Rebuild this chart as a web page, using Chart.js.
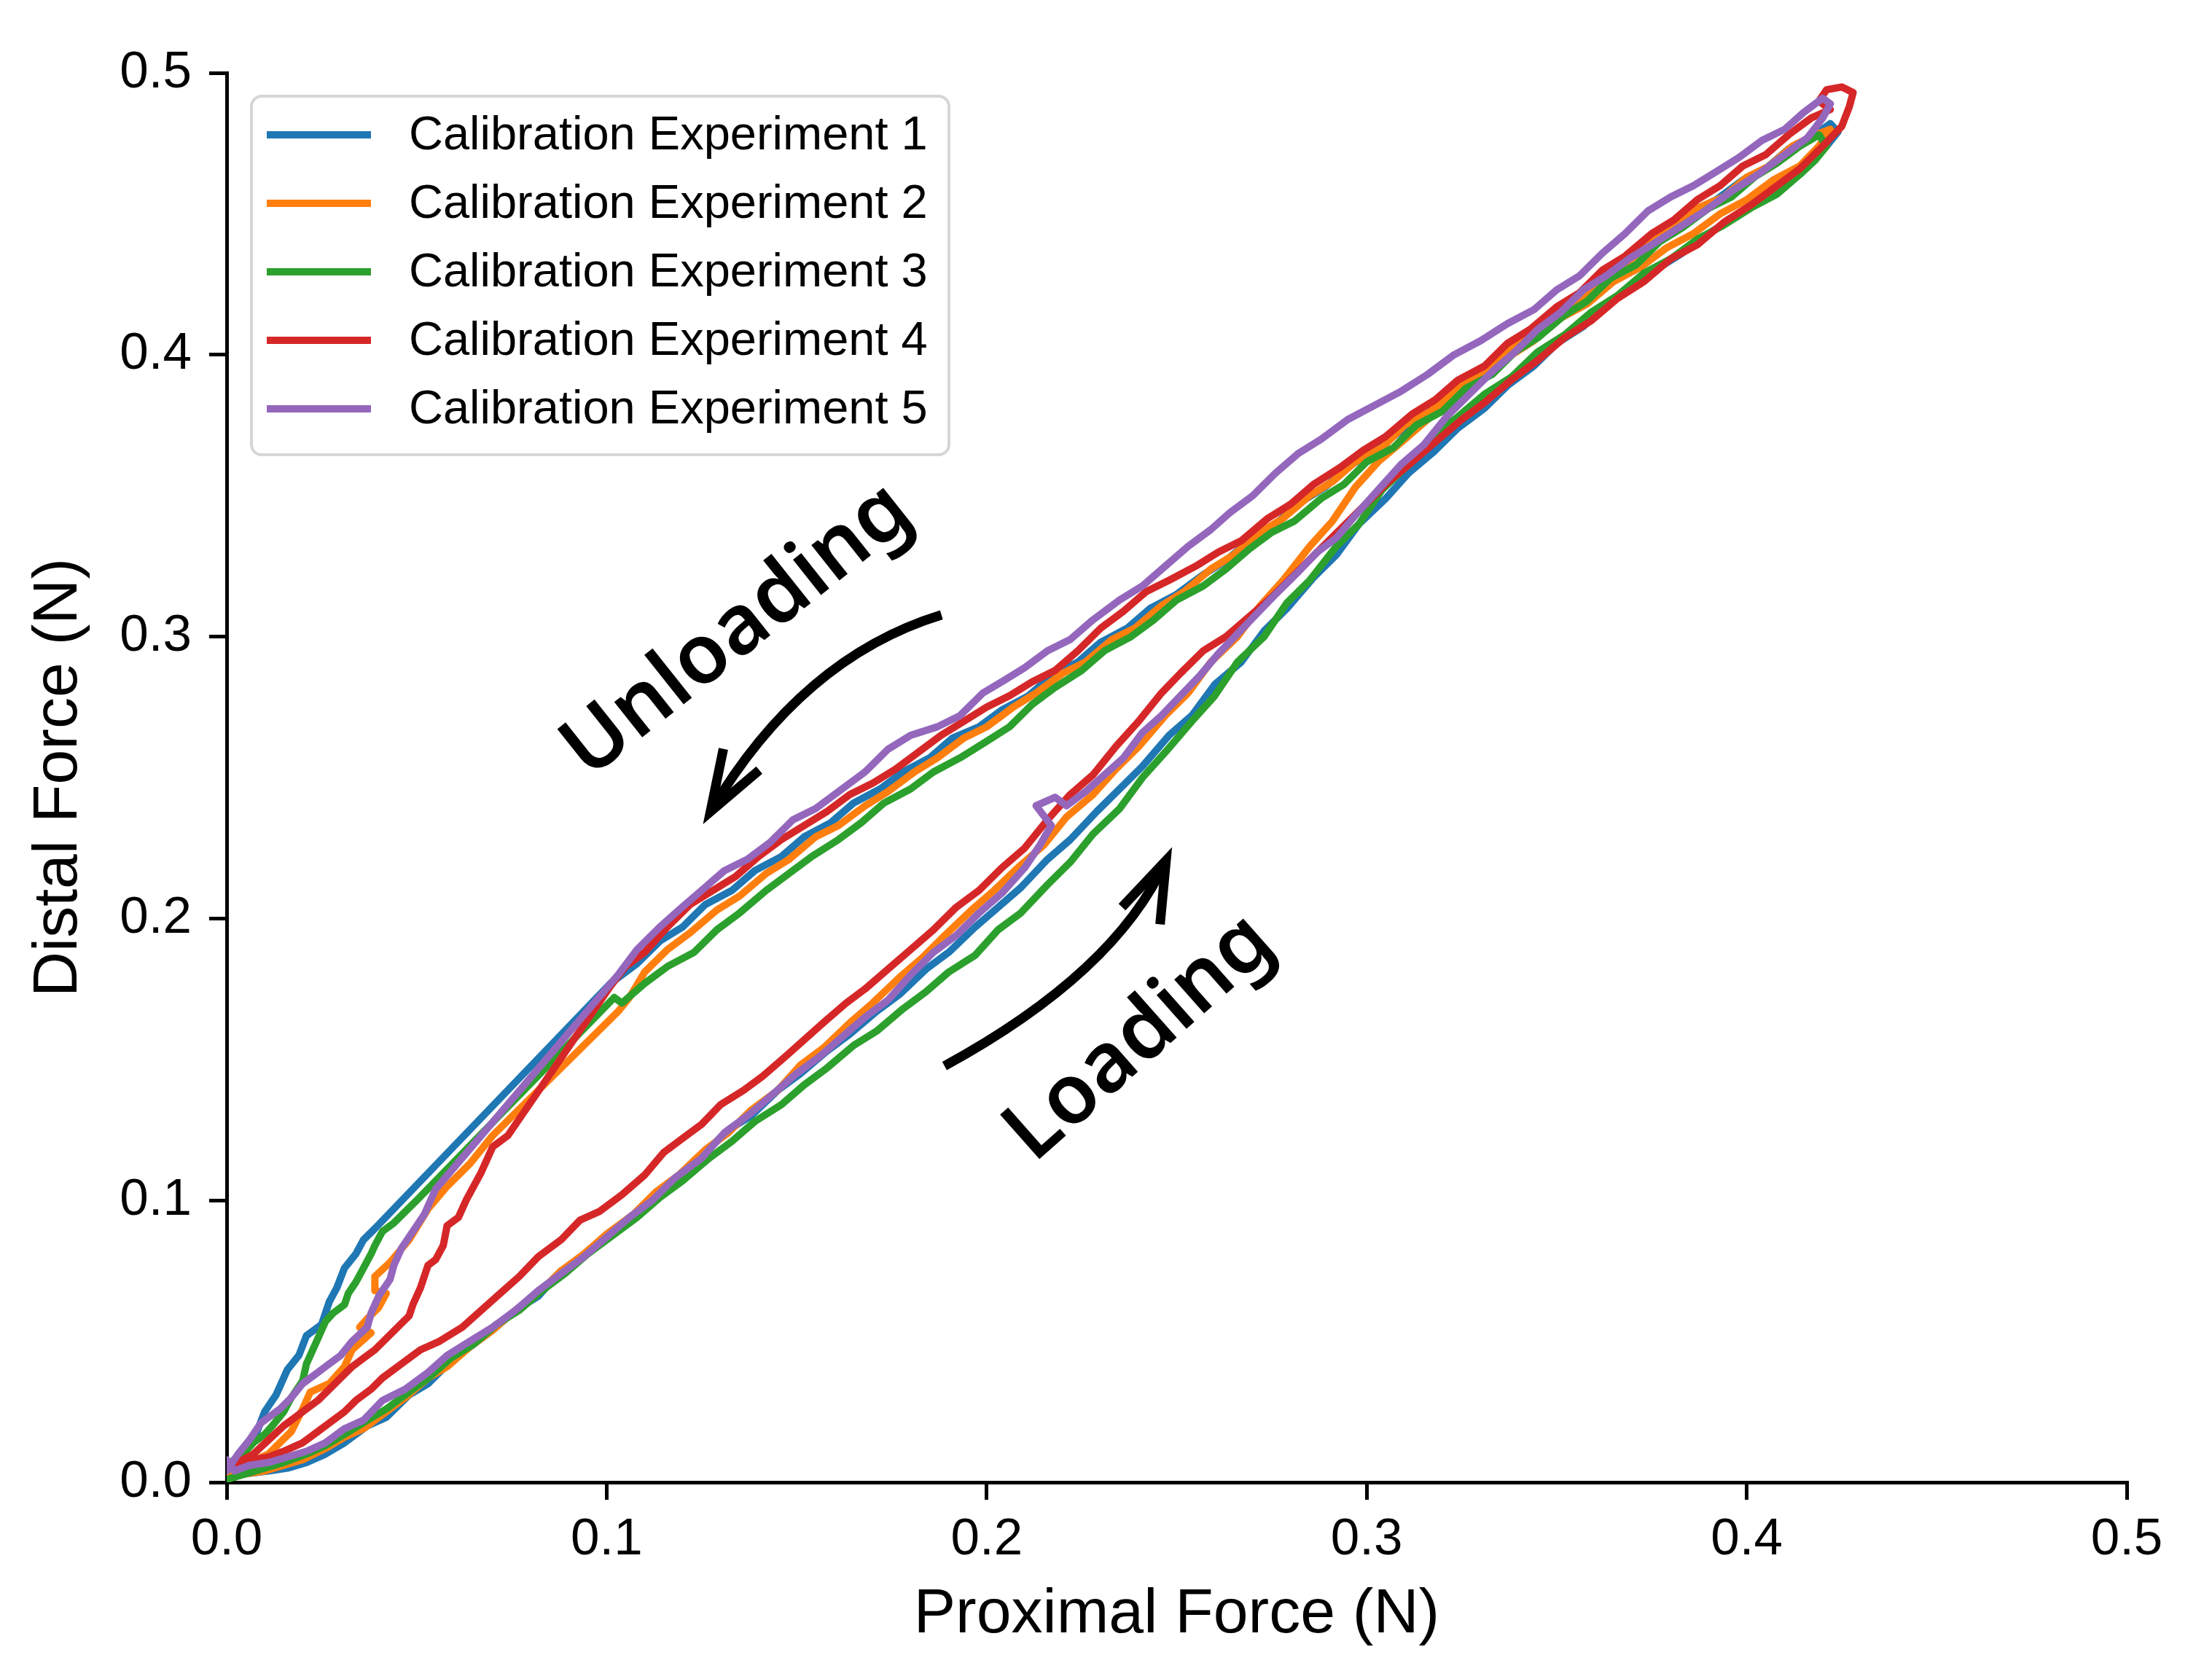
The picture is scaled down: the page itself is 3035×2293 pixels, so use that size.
<!DOCTYPE html>
<html>
<head>
<meta charset="utf-8">
<title>Calibration loops</title>
<script src="https://cdn.jsdelivr.net/npm/chart.js@4.4.1/dist/chart.umd.min.js"></script>
<style>
  html, body { margin: 0; padding: 0; background: #fff; }
  canvas { display: block; }
</style>
</head>
<body>
<canvas id="chart" width="3035" height="2293"></canvas>
<script>
// legend labels and colours (matplotlib tab10)
const expLabels = ['Calibration Experiment 1', 'Calibration Experiment 2', 'Calibration Experiment 3',
                   'Calibration Experiment 4', 'Calibration Experiment 5']
const expColors = ['#1f77b4', '#ff7f0e', '#2ca02c', '#d62728', '#9467bd']
const tickValues = [0, 0.1, 0.2, 0.3, 0.4, 0.5]

// [proximal, distal] pairs; loading goes up, unloading comes back down
const exp1Load = [[0.000,0.004],[0.005,0.003],[0.011,0.004],[0.016,0.005],[0.021,0.007],[0.026,0.010],[0.031,0.014],[0.037,0.020],[0.042,0.023],[0.048,0.031],[0.053,0.035],[0.059,0.043],[0.064,0.048],[0.070,0.054],[0.076,0.061],[0.082,0.066],[0.088,0.075],[0.094,0.080],[0.101,0.089],[0.107,0.094],[0.113,0.101],[0.119,0.108],[0.126,0.117],[0.132,0.125],[0.138,0.130],[0.145,0.139],[0.151,0.145],[0.158,0.153],[0.164,0.159],[0.171,0.167],[0.177,0.173],[0.184,0.182],[0.190,0.188],[0.197,0.197],[0.203,0.204],[0.209,0.211],[0.216,0.221],[0.222,0.228],[0.229,0.238],[0.235,0.246],[0.241,0.254],[0.248,0.265],[0.254,0.272],[0.260,0.283],[0.267,0.291],[0.273,0.302],[0.279,0.310],[0.286,0.321],[0.292,0.329],[0.298,0.340],[0.305,0.349],[0.311,0.358],[0.318,0.366],[0.324,0.374],[0.331,0.381],[0.337,0.389],[0.344,0.396],[0.350,0.404],[0.357,0.410],[0.363,0.418],[0.370,0.424],[0.377,0.431],[0.383,0.436],[0.390,0.443],[0.397,0.449],[0.403,0.455],[0.410,0.461],[0.416,0.467],[0.421,0.474],[0.424,0.479]]
const exp1Unload = [[0.424,0.479],[0.422,0.482],[0.417,0.477],[0.411,0.473],[0.405,0.466],[0.399,0.462],[0.392,0.455],[0.386,0.451],[0.380,0.444],[0.373,0.439],[0.367,0.432],[0.361,0.426],[0.354,0.418],[0.348,0.413],[0.341,0.405],[0.335,0.399],[0.328,0.391],[0.322,0.386],[0.315,0.378],[0.309,0.373],[0.302,0.366],[0.296,0.361],[0.289,0.353],[0.283,0.348],[0.276,0.340],[0.270,0.335],[0.263,0.327],[0.257,0.322],[0.250,0.315],[0.243,0.310],[0.237,0.303],[0.230,0.298],[0.224,0.291],[0.217,0.286],[0.211,0.279],[0.204,0.274],[0.198,0.268],[0.191,0.264],[0.185,0.257],[0.178,0.252],[0.172,0.246],[0.165,0.241],[0.159,0.234],[0.152,0.229],[0.146,0.222],[0.139,0.217],[0.133,0.210],[0.126,0.205],[0.120,0.197],[0.114,0.192],[0.108,0.184],[0.101,0.177],[0.039,0.090],[0.036,0.086],[0.034,0.081],[0.031,0.076],[0.029,0.069],[0.027,0.064],[0.025,0.056],[0.021,0.052],[0.019,0.045],[0.016,0.040],[0.013,0.031],[0.010,0.025],[0.008,0.018],[0.006,0.013],[0.003,0.009],[0.000,0.005]]

const exp2Load = [[0.000,0.002],[0.005,0.003],[0.010,0.004],[0.015,0.006],[0.020,0.008],[0.026,0.012],[0.031,0.016],[0.036,0.019],[0.042,0.025],[0.047,0.030],[0.053,0.037],[0.058,0.041],[0.064,0.048],[0.070,0.054],[0.076,0.061],[0.082,0.067],[0.088,0.075],[0.094,0.081],[0.100,0.088],[0.107,0.095],[0.113,0.103],[0.119,0.109],[0.126,0.118],[0.132,0.124],[0.138,0.132],[0.145,0.139],[0.151,0.148],[0.157,0.154],[0.164,0.163],[0.170,0.170],[0.177,0.179],[0.183,0.186],[0.189,0.194],[0.196,0.203],[0.202,0.210],[0.209,0.219],[0.215,0.226],[0.221,0.236],[0.228,0.244],[0.234,0.253],[0.240,0.261],[0.247,0.272],[0.253,0.280],[0.259,0.291],[0.266,0.300],[0.272,0.311],[0.278,0.320],[0.285,0.332],[0.291,0.341],[0.297,0.353],[0.303,0.362],[0.310,0.370],[0.316,0.377],[0.323,0.385],[0.330,0.391],[0.337,0.399],[0.344,0.405],[0.351,0.413],[0.358,0.418],[0.365,0.426],[0.372,0.431],[0.379,0.438],[0.386,0.443],[0.393,0.450],[0.400,0.455],[0.407,0.462],[0.414,0.467],[0.419,0.474],[0.422,0.480]]
const exp2Unload = [[0.422,0.480],[0.418,0.478],[0.412,0.474],[0.406,0.467],[0.400,0.463],[0.394,0.456],[0.387,0.452],[0.381,0.445],[0.375,0.440],[0.368,0.432],[0.362,0.427],[0.356,0.419],[0.349,0.414],[0.343,0.406],[0.336,0.401],[0.330,0.393],[0.323,0.388],[0.317,0.380],[0.310,0.375],[0.304,0.367],[0.297,0.362],[0.291,0.355],[0.285,0.350],[0.278,0.342],[0.272,0.337],[0.265,0.329],[0.259,0.324],[0.252,0.316],[0.246,0.311],[0.239,0.303],[0.233,0.299],[0.226,0.291],[0.220,0.287],[0.213,0.280],[0.207,0.275],[0.200,0.268],[0.194,0.264],[0.187,0.257],[0.181,0.252],[0.174,0.245],[0.168,0.240],[0.161,0.233],[0.155,0.229],[0.148,0.221],[0.142,0.216],[0.135,0.208],[0.129,0.203],[0.122,0.195],[0.116,0.189],[0.110,0.181],[0.106,0.172],[0.103,0.167],[0.070,0.123],[0.064,0.113],[0.058,0.105],[0.053,0.097],[0.048,0.086],[0.043,0.078],[0.039,0.073],[0.039,0.068],[0.042,0.067],[0.040,0.062],[0.037,0.058],[0.035,0.055],[0.038,0.053],[0.033,0.047],[0.031,0.041],[0.027,0.035],[0.022,0.032],[0.020,0.026],[0.017,0.018],[0.011,0.010],[0.006,0.007],[0.002,0.005]]

const exp3Load = [[0.000,0.001],[0.005,0.003],[0.010,0.005],[0.015,0.007],[0.021,0.010],[0.026,0.013],[0.031,0.017],[0.037,0.022],[0.042,0.026],[0.048,0.032],[0.053,0.037],[0.059,0.044],[0.065,0.049],[0.071,0.056],[0.077,0.061],[0.083,0.068],[0.089,0.074],[0.095,0.081],[0.101,0.087],[0.108,0.094],[0.114,0.101],[0.120,0.107],[0.127,0.115],[0.133,0.121],[0.139,0.128],[0.146,0.134],[0.152,0.141],[0.158,0.147],[0.165,0.155],[0.171,0.160],[0.178,0.168],[0.184,0.174],[0.190,0.181],[0.197,0.187],[0.203,0.196],[0.209,0.202],[0.216,0.212],[0.222,0.220],[0.228,0.230],[0.235,0.239],[0.241,0.250],[0.247,0.259],[0.254,0.270],[0.260,0.279],[0.266,0.291],[0.273,0.300],[0.279,0.312],[0.285,0.320],[0.292,0.332],[0.298,0.340],[0.304,0.352],[0.311,0.361],[0.317,0.371],[0.324,0.378],[0.331,0.386],[0.338,0.392],[0.345,0.401],[0.352,0.407],[0.359,0.415],[0.366,0.421],[0.373,0.429],[0.380,0.434],[0.387,0.441],[0.394,0.446],[0.401,0.452],[0.408,0.457],[0.414,0.464],[0.418,0.469],[0.421,0.474]]
const exp3Unload = [[0.421,0.474],[0.419,0.478],[0.414,0.474],[0.408,0.468],[0.402,0.463],[0.396,0.456],[0.390,0.452],[0.383,0.445],[0.377,0.440],[0.371,0.432],[0.364,0.427],[0.358,0.419],[0.352,0.414],[0.345,0.406],[0.339,0.401],[0.333,0.393],[0.326,0.388],[0.320,0.380],[0.313,0.375],[0.307,0.367],[0.300,0.362],[0.294,0.354],[0.288,0.349],[0.281,0.341],[0.275,0.337],[0.269,0.331],[0.263,0.324],[0.257,0.318],[0.250,0.313],[0.244,0.306],[0.238,0.300],[0.231,0.295],[0.225,0.288],[0.218,0.282],[0.212,0.276],[0.206,0.268],[0.199,0.262],[0.193,0.257],[0.186,0.252],[0.180,0.246],[0.173,0.241],[0.167,0.234],[0.161,0.228],[0.154,0.222],[0.148,0.216],[0.142,0.210],[0.135,0.202],[0.129,0.196],[0.123,0.188],[0.116,0.183],[0.110,0.177],[0.104,0.170],[0.102,0.172],[0.050,0.100],[0.047,0.096],[0.044,0.092],[0.041,0.089],[0.039,0.084],[0.038,0.081],[0.036,0.076],[0.034,0.071],[0.032,0.067],[0.031,0.063],[0.028,0.060],[0.026,0.057],[0.024,0.051],[0.023,0.048],[0.021,0.042],[0.020,0.036],[0.017,0.030],[0.015,0.025],[0.012,0.020],[0.010,0.017],[0.007,0.014],[0.005,0.011],[0.002,0.008],[0.000,0.006]]

const exp4Load = [[0.000,0.005],[0.003,0.006],[0.007,0.008],[0.011,0.009],[0.015,0.011],[0.020,0.014],[0.024,0.018],[0.027,0.021],[0.031,0.025],[0.034,0.029],[0.038,0.033],[0.041,0.037],[0.046,0.042],[0.051,0.047],[0.056,0.050],[0.062,0.055],[0.067,0.061],[0.072,0.067],[0.077,0.073],[0.082,0.080],[0.088,0.086],[0.093,0.093],[0.098,0.096],[0.104,0.102],[0.110,0.109],[0.115,0.117],[0.120,0.122],[0.125,0.127],[0.130,0.134],[0.136,0.139],[0.141,0.144],[0.147,0.151],[0.152,0.157],[0.157,0.163],[0.163,0.170],[0.168,0.175],[0.174,0.182],[0.180,0.189],[0.186,0.196],[0.192,0.204],[0.198,0.210],[0.204,0.218],[0.210,0.225],[0.216,0.235],[0.222,0.244],[0.228,0.251],[0.234,0.261],[0.240,0.270],[0.246,0.280],[0.251,0.287],[0.257,0.295],[0.263,0.300],[0.269,0.307],[0.275,0.314],[0.281,0.322],[0.287,0.330],[0.293,0.338],[0.299,0.346],[0.305,0.354],[0.312,0.362],[0.318,0.369],[0.325,0.377],[0.331,0.383],[0.338,0.391],[0.345,0.398],[0.352,0.406],[0.359,0.412],[0.366,0.420],[0.373,0.426],[0.380,0.434],[0.387,0.439],[0.394,0.447],[0.401,0.453],[0.408,0.460],[0.414,0.466],[0.420,0.474],[0.425,0.481],[0.427,0.488],[0.428,0.493]]
const exp4Unload = [[0.428,0.493],[0.425,0.495],[0.421,0.494],[0.419,0.490],[0.422,0.487],[0.417,0.484],[0.411,0.478],[0.405,0.471],[0.399,0.467],[0.393,0.460],[0.387,0.455],[0.381,0.448],[0.375,0.443],[0.368,0.435],[0.362,0.430],[0.356,0.422],[0.350,0.417],[0.343,0.409],[0.337,0.404],[0.331,0.396],[0.324,0.391],[0.318,0.384],[0.312,0.379],[0.305,0.371],[0.299,0.366],[0.293,0.360],[0.286,0.354],[0.280,0.347],[0.274,0.342],[0.267,0.334],[0.261,0.330],[0.255,0.325],[0.248,0.320],[0.242,0.316],[0.236,0.309],[0.230,0.303],[0.224,0.295],[0.218,0.288],[0.212,0.284],[0.206,0.279],[0.200,0.275],[0.194,0.270],[0.188,0.265],[0.182,0.259],[0.176,0.253],[0.170,0.248],[0.164,0.244],[0.158,0.238],[0.152,0.233],[0.146,0.228],[0.140,0.222],[0.134,0.215],[0.128,0.210],[0.122,0.205],[0.116,0.197],[0.110,0.188],[0.105,0.183],[0.101,0.176],[0.074,0.123],[0.070,0.119],[0.068,0.113],[0.067,0.110],[0.065,0.105],[0.063,0.100],[0.061,0.094],[0.058,0.091],[0.057,0.084],[0.055,0.079],[0.053,0.077],[0.051,0.069],[0.049,0.063],[0.048,0.059],[0.045,0.055],[0.042,0.051],[0.039,0.047],[0.036,0.044],[0.033,0.041],[0.030,0.037],[0.027,0.033],[0.024,0.029],[0.020,0.025],[0.015,0.020],[0.011,0.015],[0.007,0.010],[0.003,0.007],[0.000,0.006]]

const exp5Load = [[0.000,0.008],[0.002,0.004],[0.006,0.006],[0.011,0.007],[0.016,0.009],[0.021,0.011],[0.026,0.014],[0.031,0.019],[0.036,0.022],[0.041,0.029],[0.047,0.033],[0.053,0.039],[0.058,0.045],[0.064,0.050],[0.070,0.055],[0.076,0.061],[0.082,0.068],[0.088,0.074],[0.094,0.080],[0.100,0.087],[0.106,0.094],[0.112,0.100],[0.118,0.108],[0.125,0.115],[0.131,0.124],[0.138,0.131],[0.144,0.138],[0.150,0.145],[0.156,0.151],[0.162,0.158],[0.168,0.165],[0.174,0.171],[0.180,0.180],[0.186,0.188],[0.192,0.194],[0.198,0.202],[0.204,0.209],[0.210,0.218],[0.214,0.226],[0.217,0.233],[0.213,0.240],[0.218,0.243],[0.221,0.240],[0.226,0.245],[0.231,0.251],[0.236,0.257],[0.241,0.266],[0.246,0.272],[0.251,0.279],[0.256,0.286],[0.261,0.294],[0.266,0.301],[0.271,0.308],[0.276,0.315],[0.282,0.323],[0.287,0.330],[0.292,0.335],[0.297,0.343],[0.303,0.352],[0.309,0.361],[0.315,0.368],[0.321,0.378],[0.327,0.386],[0.333,0.394],[0.339,0.401],[0.345,0.409],[0.351,0.415],[0.357,0.423],[0.363,0.428],[0.369,0.434],[0.375,0.439],[0.382,0.445],[0.389,0.451],[0.396,0.458],[0.403,0.464],[0.410,0.471],[0.416,0.477],[0.420,0.484],[0.422,0.489]]
const exp5Unload = [[0.422,0.489],[0.420,0.491],[0.415,0.486],[0.410,0.480],[0.404,0.476],[0.398,0.470],[0.392,0.465],[0.386,0.460],[0.380,0.456],[0.374,0.451],[0.368,0.443],[0.362,0.436],[0.356,0.428],[0.350,0.423],[0.344,0.416],[0.337,0.411],[0.330,0.405],[0.323,0.400],[0.316,0.393],[0.309,0.387],[0.302,0.382],[0.295,0.377],[0.288,0.370],[0.282,0.365],[0.276,0.358],[0.270,0.350],[0.264,0.344],[0.259,0.338],[0.253,0.332],[0.247,0.325],[0.241,0.318],[0.235,0.313],[0.228,0.306],[0.222,0.299],[0.216,0.295],[0.210,0.289],[0.204,0.284],[0.199,0.280],[0.193,0.272],[0.187,0.268],[0.180,0.265],[0.174,0.260],[0.168,0.252],[0.161,0.245],[0.155,0.239],[0.149,0.235],[0.143,0.227],[0.137,0.221],[0.131,0.217],[0.125,0.210],[0.119,0.203],[0.114,0.197],[0.108,0.189],[0.103,0.180],[0.055,0.104],[0.052,0.095],[0.049,0.089],[0.046,0.083],[0.044,0.077],[0.043,0.072],[0.040,0.066],[0.038,0.060],[0.037,0.055],[0.033,0.050],[0.030,0.045],[0.027,0.042],[0.024,0.039],[0.020,0.035],[0.017,0.030],[0.014,0.026],[0.011,0.023],[0.009,0.021],[0.006,0.015],[0.003,0.010],[0.001,0.006],[0.000,0.004]]

// text and arrows drawn on the axes, in data units
const notes = [
  { text: 'Unloading', x: 0.1345, y: 0.302, angle: -38.5 },
  { text: 'Loading', x: 0.2404, y: 0.1575, angle: -41.5 }
]
const arrows = [
  { from: [0.1881, 0.3077], ctrl: [0.1513, 0.2925], to: [0.1273, 0.2379] },
  { from: [0.1889, 0.1477], ctrl: [0.2338, 0.1807], to: [0.2472, 0.2206] }
]

const FONT = '"Liberation Sans", Arial, Helvetica, sans-serif'
const LINE_W = 10
const loops = [
  [exp1Load, exp1Unload], [exp2Load, exp2Unload], [exp3Load, exp3Unload],
  [exp4Load, exp4Unload], [exp5Load, exp5Unload]
]

const datasets = loops.map(([load, unload], i) => ({
  label: expLabels[i],
  data: load.concat(unload.slice(1)).map(([x, y]) => ({ x, y })),
  borderColor: expColors[i],
  backgroundColor: expColors[i],
  borderWidth: LINE_W,
  borderJoinStyle: 'round',
  borderCapStyle: 'round',
  pointRadius: 0,
  fill: false,
  tension: 0,
  order: expLabels.length - i   // later experiments on top, like matplotlib
}))

const figureExtras = {
  id: 'figureExtras',
  afterDraw(chart) {
    const { ctx, chartArea: area, scales: { x, y } } = chart
    const px = p => [x.getPixelForValue(p[0]), y.getPixelForValue(p[1])]

    // curved arrows
    ctx.save()
    ctx.strokeStyle = '#000'
    ctx.lineWidth = 13
    arrows.forEach(a => {
      const p0 = px(a.from), c = px(a.ctrl), p1 = px(a.to)
      ctx.lineCap = 'butt'
      ctx.beginPath()
      ctx.moveTo(p0[0], p0[1])
      ctx.quadraticCurveTo(c[0], c[1], p1[0], p1[1])
      ctx.stroke()
      const back = Math.atan2(c[1] - p1[1], c[0] - p1[0])
      const head = 88, spread = 19 * Math.PI / 180
      ctx.lineJoin = 'miter'
      ctx.beginPath()
      ctx.moveTo(p1[0] + head * Math.cos(back + spread), p1[1] + head * Math.sin(back + spread))
      ctx.lineTo(p1[0], p1[1])
      ctx.lineTo(p1[0] + head * Math.cos(back - spread), p1[1] + head * Math.sin(back - spread))
      ctx.stroke()
    })

    // rotated labels
    ctx.fillStyle = '#000'
    ctx.font = '600 114px "Noto Sans", "Open Sans", sans-serif'
    ctx.textAlign = 'center'
    ctx.textBaseline = 'middle'
    notes.forEach(n => {
      const [tx, ty] = px([n.x, n.y])
      ctx.save()
      ctx.translate(tx, ty)
      ctx.rotate(n.angle * Math.PI / 180)
      ctx.fillText(n.text, 0, 0)
      ctx.restore()
    })
    ctx.restore()

    // legend box in the upper left of the axes
    const lx = area.left + 34, ly = area.top + 32, lw = 957, lh = 492, r = 14
    ctx.save()
    ctx.beginPath()
    ctx.roundRect(lx, ly, lw, lh, r)
    ctx.fillStyle = 'rgba(255,255,255,0.8)'
    ctx.fill()
    ctx.lineWidth = 4
    ctx.strokeStyle = 'rgba(204,204,204,0.8)'
    ctx.stroke()
    ctx.font = '65px ' + FONT
    ctx.textAlign = 'left'
    ctx.textBaseline = 'middle'
    chart.data.datasets.forEach((ds, i) => {
      const rowY = ly + 53 + i * 94
      ctx.strokeStyle = ds.borderColor
      ctx.lineWidth = LINE_W
      ctx.lineCap = 'butt'
      ctx.beginPath()
      ctx.moveTo(lx + 21, rowY)
      ctx.lineTo(lx + 164, rowY)
      ctx.stroke()
      ctx.fillStyle = '#000'
      ctx.fillText(ds.label, lx + 216, rowY + 2)
    })
    ctx.restore()
  }
}

const axisStyle = {
  grid: { display: true, drawOnChartArea: false, drawTicks: true, tickLength: 24,
          tickWidth: 5, tickColor: '#000', color: '#000', lineWidth: 5 },
  border: { display: true, color: '#000', width: 5 }
}

new Chart(document.getElementById('chart'), {
  type: 'line',
  data: { datasets },
  options: {
    responsive: false,
    devicePixelRatio: 1,
    animation: false,
    parsing: { xAxisKey: 'x', yAxisKey: 'y' },
    elements: { line: { borderWidth: LINE_W }, point: { radius: 0 } },
    layout: { padding: { left: 0, top: 100, right: 117, bottom: 0 } },
    plugins: { legend: { display: false }, tooltip: { enabled: false } },
    scales: {
      x: {
        type: 'linear', min: 0, max: 0.5,
        afterBuildTicks: s => { s.ticks = tickValues.map(v => ({ value: v })) },
        afterFit: s => { s.height = 259 },
        ticks: { font: { family: FONT, size: 71 }, color: '#000', padding: 13, maxRotation: 0,
                 callback: v => v.toFixed(1) },
        title: { display: true, text: 'Proximal Force (N)', color: '#000',
                 font: { family: FONT, size: 86 }, padding: { top: 0, bottom: 25 } },
        ...axisStyle
      },
      y: {
        type: 'linear', min: 0, max: 0.5,
        afterBuildTicks: s => { s.ticks = tickValues.map(v => ({ value: v })) },
        afterFit: s => { s.width = 311 },
        ticks: { font: { family: FONT, size: 71 }, color: '#000', padding: 24,
                 callback: v => v.toFixed(1) },
        title: { display: true, text: 'Distal Force (N)', color: '#000',
                 font: { family: FONT, size: 86 }, padding: { top: 30, bottom: 0 } },
        ...axisStyle
      }
    }
  },
  plugins: [figureExtras]
})
</script>
</body>
</html>
